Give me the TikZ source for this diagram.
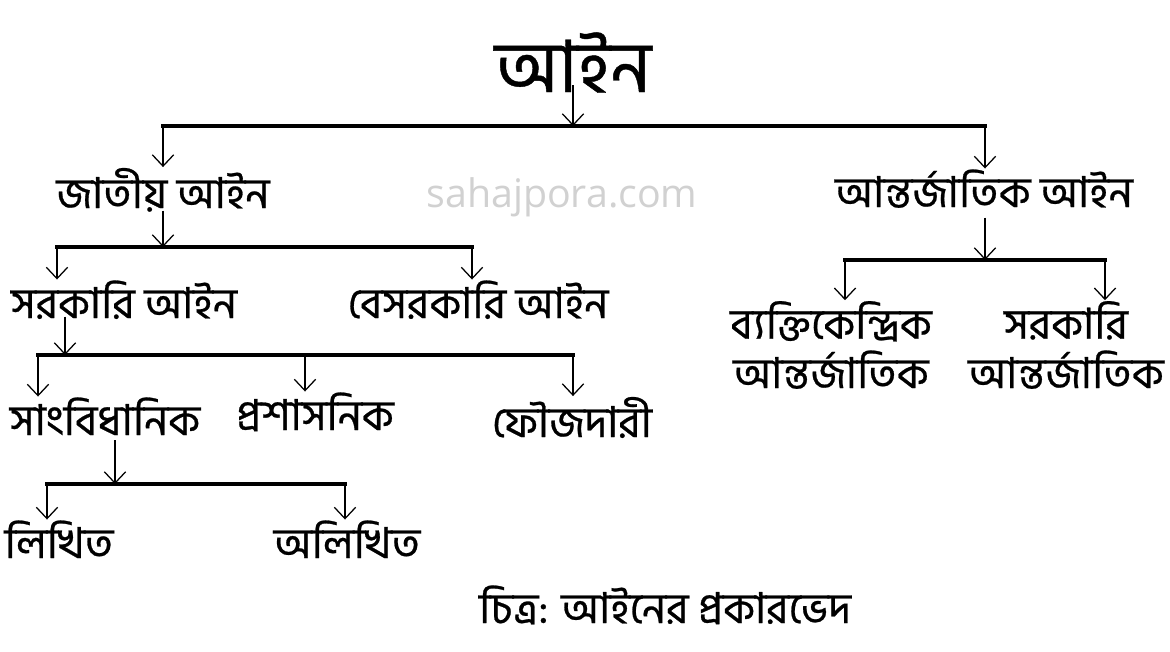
\documentclass[tikz,border=0pt]{standalone}
\usepackage{fontspec}
\setmainfont{Open Sans}
\newfontfamily\bn[Script=Bengali,FakeBold=0.6]{Hind Siliguri}
\usetikzlibrary{arrows.meta}
\begin{document}
\begin{tikzpicture}[x=0.75pt,y=-0.75pt,
  lbl/.style={font=\bn\fontsize{32}{37}\selectfont, inner sep=0pt, anchor=base, align=center},
  ttl/.style={font=\bn\fontsize{54}{60}\selectfont, inner sep=0pt, anchor=base},
  wm/.style={font=\fontsize{29.5}{34}\selectfont, text=black!18, inner sep=0pt, anchor=base},
  bar/.style={line width=3pt, line cap=rect},
  arr/.style={line width=0.95pt, -{Straight Barb[length=8.5pt,width=16pt,line width=0.95pt]}},
  drop/.style={arr, shorten >=0.5pt}]
\useasboundingbox[fill=white] (0,0) rectangle (1170,651);
% nodes
\node[ttl] (t) at (573,92) {আইন};
\node[wm] (w) at (562,207) {sahajpora.com};
\node[lbl] (jat) at (163,208) {জাতীয় আইন};
\node[lbl] (ant) at (984,207) {আন্তর্জাতিক আইন};
\node[lbl] (sark) at (124,318) {সরকারি আইন};
\node[lbl] (besk) at (478,318) {বেসরকারি আইন};
\node[lbl] (samb) at (105,435) {সাংবিধানিক};
\node[lbl] (pros) at (315,430) {প্রশাসনিক};
\node[lbl] (fouj) at (572,437) {ফৌজদারী};
\node[lbl] (likh) at (59,558) {লিখিত};
\node[lbl] (alik) at (347,558) {অলিখিত};
\node[lbl] (byak) at (831,388) {ব্যক্তিকেন্দ্রিক\\আন্তর্জাতিক};
\node[lbl] (sar2) at (1066,388) {সরকারি\\আন্তর্জাতিক};
\node[lbl] (cap) at (665,623) {চিত্র: আইনের প্রকারভেদ};
% bar coordinates
\coordinate (b1l) at (163,126); \coordinate (b1r) at (985,126); \coordinate (b1c) at (573,126);
\coordinate (b2l) at (57,247);  \coordinate (b2r) at (472,247); \coordinate (b2c) at (163,247);
\coordinate (b3l) at (38,355);  \coordinate (b3r) at (573,355); \coordinate (b3c) at (65,355);
\coordinate (b3m) at (305,355);
\coordinate (b4l) at (47,484);  \coordinate (b4r) at (345,484); \coordinate (b4c) at (115,484);
\coordinate (b5l) at (845,260); \coordinate (b5r) at (1105,260); \coordinate (b5c) at (985,260);
% bars
\draw[bar] (b1l) -- (b1r);
\draw[bar] (b2l) -- (b2r);
\draw[bar] (b3l) -- (b3r);
\draw[bar] (b4l) -- (b4r);
\draw[bar] (b5l) -- (b5r);
% arrows into bars
\draw[arr] ([yshift=5pt]t.base -| b1c) -- (b1c);
\draw[arr] ([yshift=-2pt]jat.base -| b2c) -- (b2c);
\draw[arr] ([yshift=-8pt]ant.base -| b5c) -- (b5c);
\draw[arr] ([yshift=1pt]sark.base -| b3c) -- (b3c);
\draw[arr] ([yshift=-4pt]samb.base -| b4c) -- (b4c);
% drops
\draw[drop] (b1l) -- (b1l |- jat.north);
\draw[drop] (b1r) -- (b1r |- ant.north);
\draw[drop] (b2l) -- (b2l |- sark.north);
\draw[drop] (b2r) -- (b2r |- besk.north);
\draw[drop] (b3l) -- (b3l |- samb.north);
\draw[drop] (b3m) -- (b3m |- pros.north);
\draw[drop] (b3r) -- (b3r |- fouj.north);
\draw[drop] (b4l) -- (b4l |- likh.north);
\draw[drop] (b4r) -- (b4r |- alik.north);
\draw[drop] (b5l) -- (b5l |- byak.north);
\draw[drop] (b5r) -- (b5r |- sar2.north);
\end{tikzpicture}
\end{document}
